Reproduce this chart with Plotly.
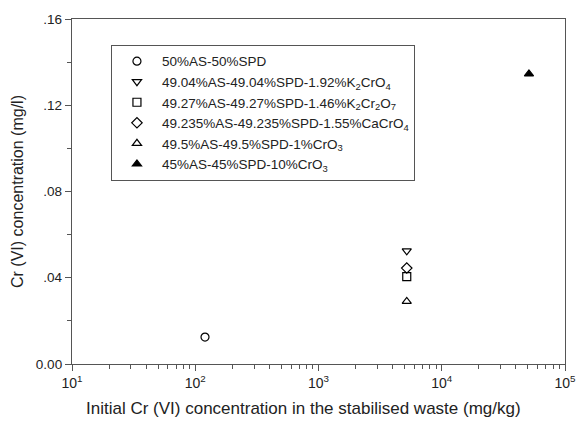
import plotly.graph_objects as go

# Data
series_names = [
    "50%AS-50%SPD",
    "49.04%AS-49.04%SPD-1.92%K<sub>2</sub>CrO<sub>4</sub>",
    "49.27%AS-49.27%SPD-1.46%K<sub>2</sub>Cr<sub>2</sub>O<sub>7</sub>",
    "49.235%AS-49.235%SPD-1.55%CaCrO<sub>4</sub>",
    "49.5%AS-49.5%SPD-1%CrO<sub>3</sub>",
    "45%AS-45%SPD-10%CrO<sub>3</sub>",
]
initial_cr = [120, 5200, 5200, 5200, 5200, 51000]          # mg/kg
leached_cr = [0.0125, 0.0525, 0.0405, 0.0445, 0.0290, 0.1345]  # mg/l
symbols = ["circle-open", "triangle-down-open", "square-open",
           "diamond-open", "triangle-up-open", "triangle-up"]

y_tickvals = [0, 0.04, 0.08, 0.12, 0.16]
y_ticktext = ["0.00", ".04", ".08", ".12", ".16"]
x_tickvals = [10, 100, 1000, 10000, 100000]
x_ticktext = ["10<sup>1</sup>", "10<sup>2</sup>", "10<sup>3</sup>", "10<sup>4</sup>", "10<sup>5</sup>"]
x_minor_vals = [m * 10 ** d for d in range(1, 5) for m in range(2, 10)]
x_title = "Initial Cr (VI) concentration in the stabilised waste (mg/kg)"
y_title = "Cr (VI) concentration (mg/l)"

fig = go.Figure()
for name, xv, yv, sym in zip(series_names, initial_cr, leached_cr, symbols):
    fig.add_trace(go.Scatter(
        x=[xv], y=[yv], mode="markers", name=name,
        marker=dict(symbol=sym, size=8, color="black",
                    line=dict(color="black", width=1.2)),
    ))

axis_color = "#555555"
fig.update_layout(
    width=580, height=421,
    margin=dict(l=72, r=15, t=19, b=57),
    paper_bgcolor="white", plot_bgcolor="white",
    font=dict(family="Liberation Sans, Arial, sans-serif", size=13, color="#222222"),
    showlegend=True,
    legend=dict(
        x=0.079, y=0.925, xanchor="left", yanchor="top",
        bordercolor=axis_color, borderwidth=1,
        font=dict(size=13.5, color="#222222"),
        itemwidth=40,
        bgcolor="white",
    ),
    xaxis=dict(
        type="log", range=[1, 5], automargin=False,
        tickvals=x_tickvals, ticktext=x_ticktext,
        ticks="outside", ticklen=6, tickcolor=axis_color,
        showline=True, linecolor=axis_color, linewidth=1.3, mirror=True,
        showgrid=False, zeroline=False,
        minor=dict(ticks="outside", ticklen=4, tickcolor=axis_color,
                   tickvals=x_minor_vals, showgrid=False),
        tickfont=dict(size=14),
    ),
    yaxis=dict(
        range=[0, 0.16], automargin=False,
        tickvals=y_tickvals, ticktext=y_ticktext,
        ticks="outside", ticklen=6, tickcolor=axis_color,
        showline=True, linecolor=axis_color, linewidth=1.3, mirror=True,
        showgrid=False, zeroline=False,
        minor=dict(ticks="outside", ticklen=4, tickcolor=axis_color, dtick=0.02, showgrid=False),
        title=dict(text=y_title, font=dict(size=16), standoff=8),
        tickfont=dict(size=13.5),
    ),
    annotations=[dict(
        text=x_title, xref="paper", yref="paper", x=0.47, y=-0.128,
        xanchor="center", yanchor="middle", showarrow=False,
        font=dict(size=17, color="#222222"),
    )],
)

fig.write_html("out.html")
